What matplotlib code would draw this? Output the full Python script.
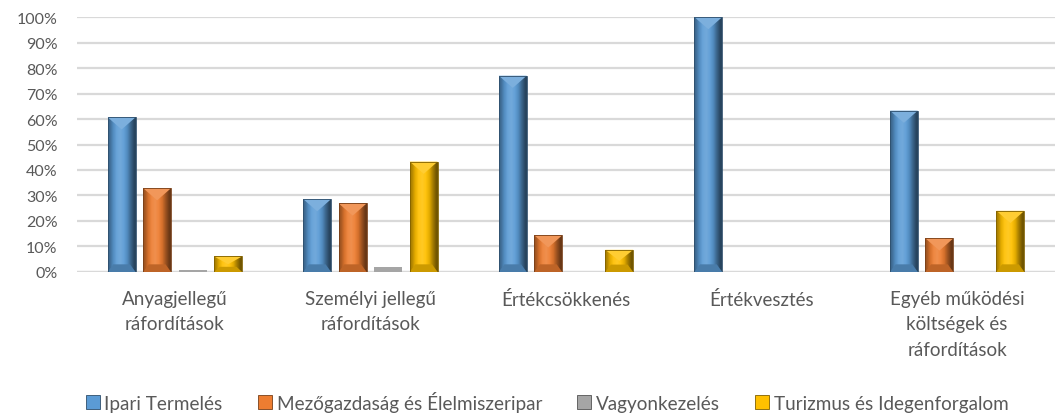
import numpy as np
import matplotlib
matplotlib.use('Agg')
import matplotlib.pyplot as plt
import matplotlib.colors as mcolors
from matplotlib.patches import Polygon, Patch
from matplotlib.ticker import PercentFormatter

categories = ['Anyagjellegű\nráfordítások', 'Személyi jellegű\nráfordítások', 'Értékcsökkenés',
              'Értékvesztés', 'Egyéb működési\nköltségek és\nráfordítások']
series_names = ['Ipari Termelés', 'Mezőgazdaság és Élelmiszeripar', 'Vagyonkezelés', 'Turizmus és Idegenforgalom']
ipari = [0.607, 0.286, 0.770, 1.000, 0.633]
mezogazdasag = [0.329, 0.269, 0.144, 0.0, 0.132]
vagyon = [0.009, 0.021, 0.0, 0.0, 0.0]
turizmus = [0.061, 0.433, 0.087, 0.0, 0.240]
series = [ipari, mezogazdasag, vagyon, turizmus]
colors = ['#5B9BD5', '#ED7D31', '#A5A5A5', '#FFC000']

plt.rcParams['font.family'] = ['Lato', 'DejaVu Sans']
text_color = '#595959'


def shade(color, f):
    rgb = np.array(mcolors.to_rgb(color))
    if f >= 1:
        return tuple(rgb + (1 - rgb) * (f - 1))
    return tuple(rgb * f)


def bevel_bar(ax, patch, color, flat=False):
    x, w, h = patch.get_x(), patch.get_width(), patch.get_height()
    if h <= 0 or flat:
        return
    patch.set_alpha(0)
    facs = [0.68, 0.9, 1.08, 1.14, 1.06, 0.9, 0.66, 0.45]
    grad = np.array([[shade(color, f) for f in facs]])
    im = ax.imshow(grad, extent=(x, x + w, 0, h), aspect='auto', interpolation='bilinear', zorder=2)
    im.set_clip_path(patch)
    bev = min(0.048, h / 2)
    top = Polygon([(x, h), (x + w, h), (x + w / 2, h - bev)], closed=True,
                  facecolor=shade(color, 1.2), edgecolor='none', zorder=3)
    ax.add_patch(top)
    bb = min(0.03, h / 3)
    bot = Polygon([(x, 0), (x + w, 0), (x + w * 0.8, bb), (x + w * 0.2, bb)], closed=True,
                  facecolor=shade(color, 0.8), edgecolor='none', zorder=3)
    ax.add_patch(bot)
    edge = Polygon([(x, 0), (x, h), (x + w, h), (x + w, 0)], closed=True, fill=False,
                   edgecolor=shade(color, 0.5), linewidth=0.6, zorder=4)
    ax.add_patch(edge)


fig = plt.figure(figsize=(10.56, 4.14), dpi=100, facecolor='w')
ax = fig.add_axes([0.073, 0.3406, 0.926, 0.6159])

n = len(series)
xs = np.arange(len(categories))
step = 0.1815
width = 0.143
for i, (vals, c) in enumerate(zip(series, colors)):
    pos = xs + (i - (n - 1) / 2) * step
    bars = ax.bar(pos, vals, width, color=c, zorder=2)
    for p in bars.patches:
        bevel_bar(ax, p, c, flat=(i == 2))

ax.set_xlim(-0.5, len(categories) - 0.5)
ax.set_ylim(0, 1.0)
ax.set_yticks(np.arange(0, 1.01, 0.1))
ax.yaxis.set_major_formatter(PercentFormatter(1.0, decimals=0))
ax.grid(axis='y', color='#D9D9D9', linewidth=1.6, zorder=0)
ax.set_axisbelow(True)
for s in ['top', 'right', 'left', 'bottom']:
    ax.spines[s].set_visible(False)
ax.axhline(0, color='#D9D9D9', linewidth=1.6, zorder=1)
ax.set_xticks(xs)
ax.set_xticklabels(categories, fontsize=13.5, color=text_color, linespacing=1.6, va='top')
ax.tick_params(axis='x', length=0, pad=13)
ax.tick_params(axis='y', length=0, pad=14, labelsize=11.5, labelcolor=text_color)

handles = [Patch(facecolor=c, edgecolor=shade(c, 0.5), linewidth=0.6) for c in colors]
fig.legend(handles, series_names, loc='center', bbox_to_anchor=(0.518, 0.028), ncol=4,
           frameon=False, fontsize=13.6, labelcolor=text_color, handlelength=0.75, handleheight=0.75,
           handletextpad=0.25, columnspacing=1.85)

fig.savefig('out.png', dpi=100, facecolor='w')
